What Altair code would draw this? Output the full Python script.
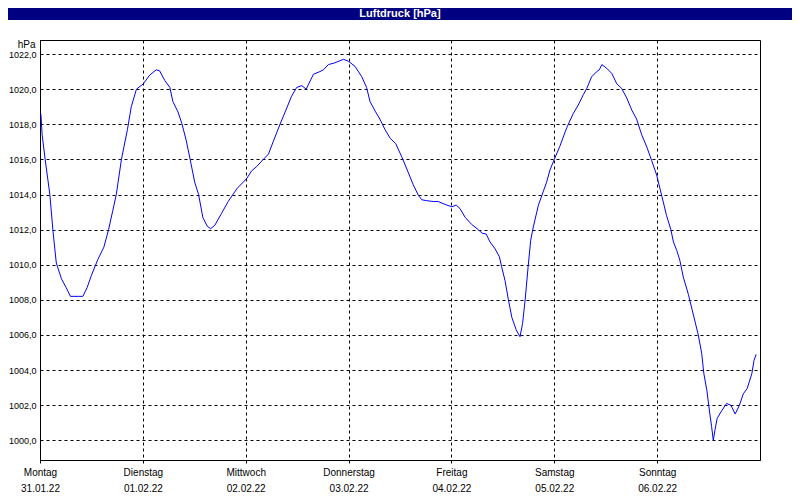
import json
import altair as alt
import pandas as pd

# --- data ---
hours = [0.2, 0.5, 1.2, 2.3, 3.0, 3.8, 5.0, 6.1, 7.1, 8.9, 10.0, 11.0, 12.0, 13.5, 14.9,
         16.0, 17.0, 17.8, 19.0, 20.4, 21.3, 22.5, 24.1, 25.6, 27.1, 27.9, 29.1, 30.3,
         31.0, 32.2, 33.1, 34.1, 35.2, 36.1, 37.0, 38.0, 39.0, 39.8, 40.8, 42.3, 43.9,
         46.0, 48.2, 49.4, 50.6, 52.1, 53.3, 54.4, 56.0, 57.2, 58.7, 59.9, 61.1, 62.1,
         63.8, 65.3, 66.1, 67.3, 68.8, 70.8, 71.9, 73.5, 75.1, 76.2, 77.0, 78.2, 79.3,
         80.5, 81.7, 83.0, 84.4, 85.6, 87.1, 88.3, 89.1, 90.2, 91.8, 92.9, 94.9, 96.1,
         97.1, 98.0, 99.2, 100.7, 102.3, 103.1, 104.1, 105.0, 106.2, 107.2, 107.7, 108.5,
         109.3, 110.1, 111.1, 112.0, 112.6, 113.2, 113.9, 114.5, 115.1, 116.3, 117.4,
         118.2, 119.0, 120.0, 121.3, 122.9, 124.4, 125.6, 126.8, 127.6, 128.7, 129.9,
         130.5, 131.1, 132.2, 133.4, 134.6, 135.7, 136.9, 138.1, 139.2, 140.4, 141.6,
         142.7, 143.9, 145.1, 146.2, 147.2, 147.8, 148.6, 149.3, 150.1, 151.3, 152.4,
         153.6, 154.4, 154.9, 155.6, 156.3, 156.7, 157.1, 157.5, 158.0, 159.1, 160.2,
         161.2, 162.2, 163.2, 164.1, 165.0, 166.1, 166.6, 167.1]
hpa = [1018.6, 1017.4, 1016.0, 1014.0, 1012.0, 1010.1, 1009.2, 1008.7, 1008.2, 1008.2,
       1008.2, 1008.7, 1009.4, 1010.3, 1011.0, 1012.0, 1013.1, 1014.0, 1016.0, 1017.7,
       1019.0, 1020.0, 1020.3, 1020.8, 1021.1, 1021.05, 1020.5, 1020.1, 1019.3, 1018.7,
       1018.05, 1017.1, 1015.8, 1014.7, 1014.0, 1012.7, 1012.2, 1012.05, 1012.25, 1012.9,
       1013.6, 1014.35, 1014.9, 1015.35, 1015.6, 1016.0, 1016.3, 1017.0, 1018.0, 1018.7,
       1019.6, 1020.1, 1020.2, 1020.0, 1020.85, 1021.0, 1021.1, 1021.4, 1021.5, 1021.7,
       1021.6, 1021.3, 1020.7, 1020.1, 1019.3, 1018.75, 1018.3, 1017.7, 1017.2, 1016.9,
       1016.15, 1015.45, 1014.55, 1013.95, 1013.7, 1013.65, 1013.6, 1013.6, 1013.4,
       1013.3, 1013.4, 1013.2, 1012.7, 1012.3, 1012.0, 1011.8, 1011.75, 1011.3, 1010.9,
       1010.45, 1009.9, 1009.1, 1008.0, 1007.0, 1006.3, 1005.9, 1006.65, 1008.0, 1009.9,
       1011.4, 1012.15, 1013.4, 1014.15, 1014.7, 1015.4, 1016.0, 1016.75, 1017.8, 1018.6,
       1019.1, 1019.7, 1020.05, 1020.7, 1021.0, 1021.1, 1021.4, 1021.2, 1020.9, 1020.3,
       1020.05, 1019.5, 1018.8, 1018.3, 1017.4, 1016.7, 1015.95, 1015.1, 1013.9, 1012.8,
       1012.0, 1011.3, 1010.8, 1010.25, 1009.3, 1008.3, 1007.2, 1006.0, 1004.95, 1003.8,
       1002.85, 1001.5, 1000.8, 1000.0, 1000.6, 1001.25, 1001.7, 1002.1, 1002.0, 1001.5,
       1002.0, 1002.65, 1002.95, 1003.8, 1004.55, 1004.9]

day_names = ["Montag", "Dienstag", "Mittwoch", "Donnerstag", "Freitag", "Samstag", "Sonntag"]
day_dates = ["31.01.22", "01.02.22", "02.02.22", "03.02.22", "04.02.22", "05.02.22", "06.02.22"]
day_ticks = [0, 24, 48, 72, 96, 120, 144]
y_ticks = [1000, 1002, 1004, 1006, 1008, 1010, 1012, 1014, 1016, 1018, 1020, 1022]
chart_title = "Luftdruck [hPa]"
unit = "hPa"

df = pd.DataFrame({"h": hours, "p": hpa})

FONT = "Liberation Sans"
NAVY = "#000080"

x_label_expr = (
    f"[{json.dumps(day_names)}[round(datum.value/24)], "
    f"{json.dumps(day_dates)}[round(datum.value/24)]]"
)

line = alt.Chart(df).mark_line(color="#0000FF", strokeWidth=1, clip=True).encode(
    x=alt.X(
        "h:Q",
        scale=alt.Scale(domain=[0, 168], nice=False, zero=False),
        axis=alt.Axis(
            values=day_ticks,
            labelExpr=x_label_expr,
            title=None,
            grid=True,
            gridColor="black",
            gridDash=[3, 3],
            gridOpacity=1,
            gridWidth=1,
            ticks=True,
            tickSize=3,
            tickColor="black",
            domainColor="black",
            labelFont=FONT,
            labelFontSize=10,
            labelColor="black",
            labelBaseline="top",
            labelLineHeight=16,
            labelPadding=4,
            labelFlush=False,
            labelOverlap=False,
        ),
    ),
    y=alt.Y(
        "p:Q",
        scale=alt.Scale(domain=[998.88, 1022.8], nice=False, zero=False),
        axis=alt.Axis(
            values=y_ticks,
            labelExpr="replace(format(datum.value, '.1f'), '.', ',')",
            title=unit,
            titleAngle=0,
            titleX=-5,
            titleY=4,
            titleAlign="right",
            titleBaseline="middle",
            titleFont=FONT,
            titleFontSize=10,
            titleFontWeight="normal",
            titleColor="black",
            grid=True,
            gridColor="black",
            gridDash=[3, 3],
            gridOpacity=1,
            gridWidth=1,
            ticks=False,
            domainColor="black",
            labelFont=FONT,
            labelFontSize=9,
            labelColor="black",
            labelPadding=4,
            labelOverlap=False,
        ),
    ),
)

one = alt.Data(values=[{}])
bar = alt.Chart(one).mark_rect(color=NAVY).encode(
    x=alt.value(-32), x2=alt.value(752), y=alt.value(-32), y2=alt.value(-20)
)
title_text = alt.Chart(one).mark_text(
    text=chart_title, color="white", font=FONT, fontSize=11, fontWeight="bold",
    align="center", baseline="middle"
).encode(x=alt.value(360), y=alt.value(-26))

chart = alt.layer(line, bar, title_text).properties(
    width=720,
    height=420,
    autosize=alt.AutoSizeParams(type="none"),
    padding={"left": 32, "top": 32, "right": 32, "bottom": 32},
    background="white",
).configure_view(stroke="black", strokeWidth=1)

chart.save("out.html", embed_options={"renderer": "svg", "actions": False})
